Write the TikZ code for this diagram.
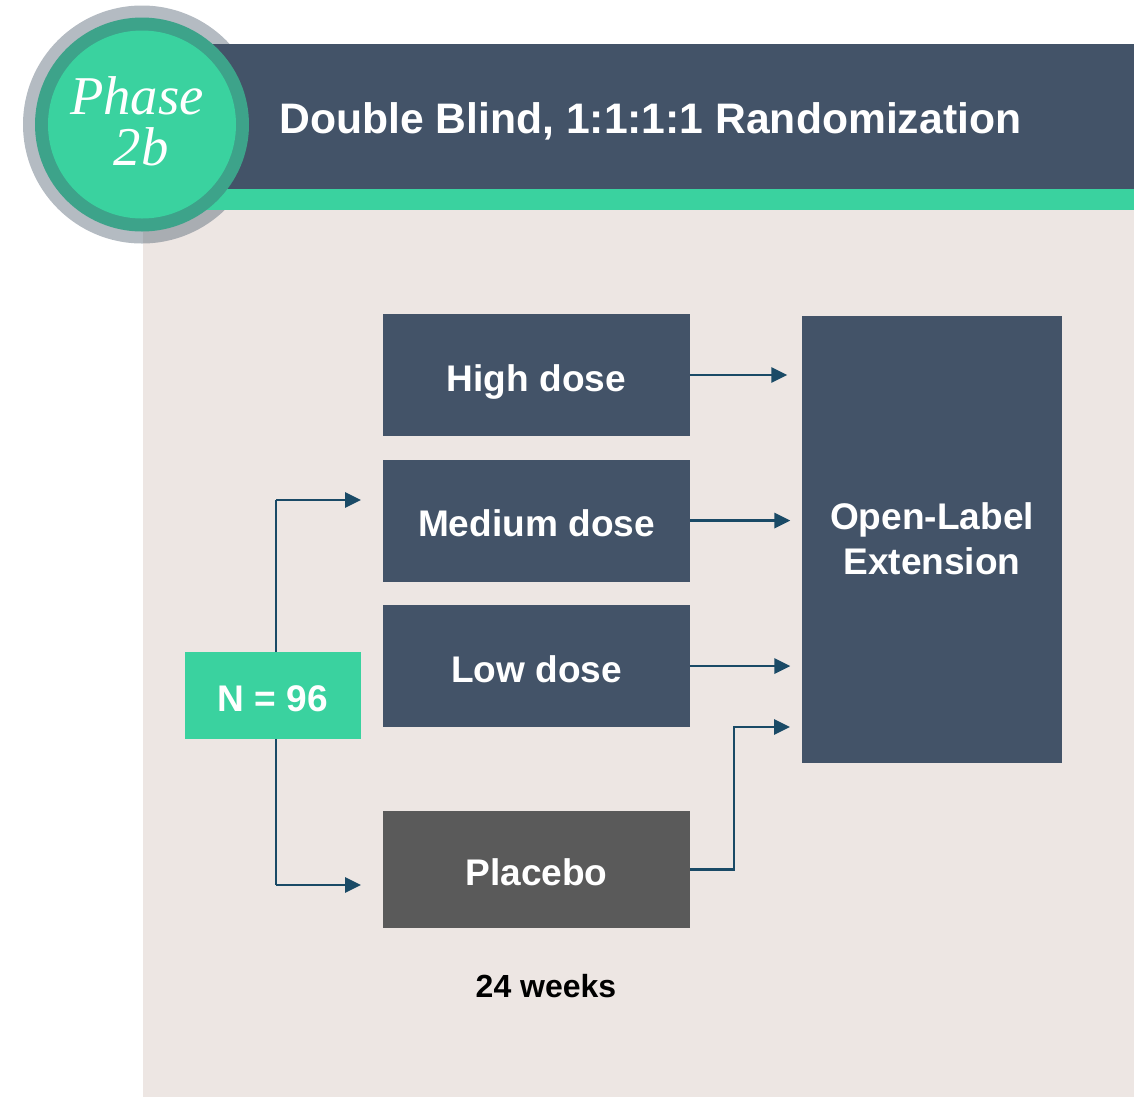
\documentclass[tikz,border=0pt]{standalone}
\usepackage{fontspec}
\setmainfont{Liberation Sans}
\newfontfamily\phasefont{Liberation Serif}
\usetikzlibrary{positioning}
\usetikzlibrary{arrows.meta}
\definecolor{slate}{HTML}{435368}
\definecolor{mint}{HTML}{3AD29F}
\definecolor{deepmint}{HTML}{3DA38A}
\definecolor{beige}{HTML}{EDE6E3}
\definecolor{ringgray}{HTML}{586878}
\definecolor{placebogray}{HTML}{5A5A5A}
\definecolor{arrowblue}{HTML}{1A4A66}

\begin{document}
\begin{tikzpicture}
        [x = 0.75pt, y = -0.75pt,
        dosebox/.style = {rectangle, fill = slate, text = white, minimum width = 230.25pt,
            minimum height = 91.5pt, inner sep = 0, text height = 24pt, text depth = 0pt,
            font = {\fontsize{27.8}{33}\selectfont\bfseries}},
        node distance = 17.25pt,
        link/.style = {draw = arrowblue, line width = 1.6pt, -{Triangle[length = 12pt, width = 11.5pt]}}]
        \useasboundingbox (0, 0) rectangle (1139, 1097);
        % background and header
        \fill[beige] (143, 205) rectangle (1134, 1097);
        \fill[ringgray, opacity = 0.45] (142, 124.5) circle (119);
        \fill[slate] (200, 44) rectangle (1134, 189);
        \fill[mint] (200, 189) rectangle (1134, 210);
        \fill[deepmint] (142, 124.5) circle (107);
        \fill[mint] (142, 124.5) circle (94);
        \node (phase) at (137, 96) [text = white, inner sep = 0,
            font = {\fontsize{41}{41}\selectfont\phasefont\itshape}] {Phase};
        \node (two) at (141, 147) [text = white, inner sep = 0,
            font = {\fontsize{41}{41}\selectfont\phasefont\itshape}] {2b};
        \node (title) at (279, 121) [anchor = west, text = white, inner sep = 0,
            font = {\fontsize{32}{37}\selectfont\bfseries}] {Double Blind, 1:1:1:1 Randomization};
        % arms
        \node (high) [dosebox] at (536.5, 375) {High dose};
        \node (medium) [dosebox, below = of high] {Medium dose};
        \node (low) [dosebox, below = of medium] {Low dose};
        \node (placebo) [dosebox, fill = placebogray, minimum height = 87.75pt] at (536.5, 869.5) {Placebo};
        \node (ole) [rectangle, fill = slate, text = white, minimum width = 195pt, minimum height = 335.25pt,
            inner sep = 0, align = center, font = {\fontsize{27.8}{34}\selectfont\bfseries}] at (932, 539) {Open-Label\\Extension};
        \node (n) [dosebox, fill = mint, minimum width = 132pt, minimum height = 65.25pt] at (273, 695.5) {N = 96};
        \node (weeks) at (546, 986) [font = {\fontsize{24}{28}\selectfont\bfseries}] {24 weeks};
        \coordinate (top) at (276, 500);
        \coordinate (bottom) at (276, 885);
        \coordinate (bend) at (734, 727);
        % connectors
        \draw[link] (high.east) -- ++(97, 0);
        \draw[link] (medium.east) -- ++(100, 0);
        \draw[link] (low.east) -- ++(100, 0);
        \draw[link] (placebo.east) -| (bend) -- ++(56, 0);
        \draw[draw = arrowblue, line width = 1.6pt] (n.north -| top) -- (top);
        \draw[draw = arrowblue, line width = 1.6pt] (n.south -| bottom) -- (bottom);
        \draw[link] (top) -- ++(85, 0);
        \draw[link] (bottom) -- ++(85, 0);
    \end{tikzpicture}
\end{document}
